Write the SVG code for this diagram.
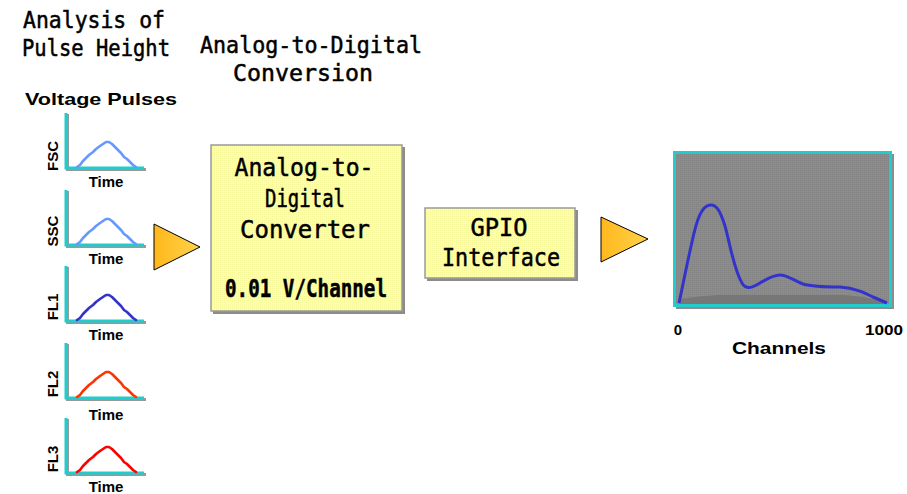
<svg xmlns="http://www.w3.org/2000/svg" width="907" height="494" viewBox="0 0 907 494">
  <style>
    .title { font-family: "DejaVu Sans Mono", "Liberation Mono", monospace; font-size: 23px; fill: #000; stroke: #000; stroke-width: 0.5; text-anchor: middle; }
    .boxtxt { font-family: "DejaVu Sans Mono", "Liberation Mono", monospace; font-size: 24px; fill: #000; stroke: #000; stroke-width: 0.5; text-anchor: middle; }
    .bold { font-family: "Liberation Sans", Arial, sans-serif; font-weight: bold; fill: #000; }
    .axis { fill: none; stroke: #22cccc; stroke-width: 3; }
    .axshadow { fill: none; stroke: #999; stroke-width: 3; }
    .pulse { fill: none; stroke-width: 2.6; stroke-linejoin: round; stroke-linecap: round; }
    .box { stroke: #9a9a9a; stroke-width: 1.5; }
    .shadow { fill: #8c8c8c; }
    .tri { fill: url(#triFill); stroke: #000; stroke-width: 1; }
  </style>
  <defs>
    <linearGradient id="triFill" x1="0" y1="0" x2="1" y2="0">
      <stop offset="0" stop-color="#ffb81c"/>
      <stop offset="1" stop-color="#ffd24a"/>
    </linearGradient>
    <pattern id="dither" width="2" height="2" patternUnits="userSpaceOnUse">
      <rect width="2" height="2" fill="#ffffa6"/>
      <rect width="1" height="1" fill="#f6f69a"/>
    </pattern>
    <pattern id="greyDither" width="2" height="2" patternUnits="userSpaceOnUse">
      <rect width="2" height="2" fill="#8c8c8c"/>
      <rect width="1" height="1" fill="#828282"/>
    </pattern>
    <!-- one small pulse plot: axes plus a bell-shaped trace -->
    <g id="plotAxes">
      <path class="axshadow" d="M1.5,-54 V1.5 H80"/>
      <path class="axis" d="M0,-55 V0 H78"/>
    </g>
    <polyline id="pulseTrace" points="11,-1 14,-3 17,-7 20,-10 23,-13 27,-16 30,-19 34,-22 37,-24 40,-26 43,-26 46,-24 49,-21 52,-18 55,-15 58,-11 61,-9 64,-6 67,-3 70,-1"/>
  </defs>

  <!-- headings -->
  <g id="headings">
    <text class="title" x="94" y="28" textLength="142" lengthAdjust="spacingAndGlyphs">Analysis of</text>
    <text class="title" x="96" y="56" textLength="148" lengthAdjust="spacingAndGlyphs">Pulse Height</text>
    <text class="title" x="311" y="53" textLength="222" lengthAdjust="spacingAndGlyphs">Analog-to-Digital</text>
    <text class="title" x="303" y="81" textLength="140" lengthAdjust="spacingAndGlyphs">Conversion</text>
    <text class="bold" x="101" y="105" font-size="17" text-anchor="middle" textLength="152" lengthAdjust="spacingAndGlyphs">Voltage Pulses</text>
  </g>

  <!-- pulse plots -->
  <g id="pulse-fsc">
    <g transform="translate(66,168)">
      <use href="#plotAxes"/>
      <use href="#pulseTrace" class="pulse" stroke="#6699ff"/>
    </g>
    <text class="bold" font-size="15" transform="translate(58,156) rotate(-90)" text-anchor="middle">FSC</text>
    <text class="bold" font-size="15" x="106" y="187" text-anchor="middle">Time</text>
  </g>
  <g id="pulse-ssc">
    <g transform="translate(66,245)">
      <use href="#plotAxes"/>
      <use href="#pulseTrace" class="pulse" stroke="#6699ff"/>
    </g>
    <text class="bold" font-size="15" transform="translate(58,231) rotate(-90)" text-anchor="middle">SSC</text>
    <text class="bold" font-size="15" x="106" y="264" text-anchor="middle">Time</text>
  </g>
  <g id="pulse-fl1">
    <g transform="translate(66,321)">
      <use href="#plotAxes"/>
      <use href="#pulseTrace" class="pulse" stroke="#3333cc"/>
    </g>
    <text class="bold" font-size="15" transform="translate(58,307) rotate(-90)" text-anchor="middle">FL1</text>
    <text class="bold" font-size="15" x="106" y="340" text-anchor="middle">Time</text>
  </g>
  <g id="pulse-fl2">
    <g transform="translate(66,398)">
      <use href="#plotAxes"/>
      <use href="#pulseTrace" class="pulse" stroke="#ff3300"/>
    </g>
    <text class="bold" font-size="15" transform="translate(58,384) rotate(-90)" text-anchor="middle">FL2</text>
    <text class="bold" font-size="15" x="106" y="420" text-anchor="middle">Time</text>
  </g>
  <g id="pulse-fl3">
    <g transform="translate(66,473)">
      <use href="#plotAxes"/>
      <use href="#pulseTrace" class="pulse" stroke="#ff0000"/>
    </g>
    <text class="bold" font-size="15" transform="translate(58,459) rotate(-90)" text-anchor="middle">FL3</text>
    <text class="bold" font-size="15" x="106" y="492" text-anchor="middle">Time</text>
  </g>

  <!-- flow arrows -->
  <g id="connectors">
    <polygon class="tri" points="154,224 200,247 154,270"/>
    <polygon class="tri" points="601,217 648,239 601,262"/>
  </g>

  <!-- converter block -->
  <g id="adc">
    <rect class="shadow" x="213" y="147" width="192" height="167"/>
    <rect class="box" x="211" y="145" width="191" height="166" fill="url(#dither)"/>
    <text class="boxtxt" x="304" y="176" textLength="139" lengthAdjust="spacingAndGlyphs">Analog-to-</text>
    <text class="boxtxt" x="305" y="207" textLength="80" lengthAdjust="spacingAndGlyphs">Digital</text>
    <text class="boxtxt" x="305" y="238" textLength="130" lengthAdjust="spacingAndGlyphs">Converter</text>
    <text class="boxtxt" x="306" y="297" font-size="17" font-weight="bold" stroke-width="0" textLength="162" lengthAdjust="spacingAndGlyphs">0.01 V/Channel</text>
  </g>

  <!-- interface block -->
  <g id="gpio">
    <rect class="shadow" x="427" y="210" width="151" height="71"/>
    <rect class="box" x="425" y="208" width="150" height="70" fill="url(#dither)"/>
    <text class="boxtxt" x="499" y="236" textLength="57" lengthAdjust="spacingAndGlyphs">GPIO</text>
    <text class="boxtxt" x="501" y="266" textLength="118" lengthAdjust="spacingAndGlyphs">Interface</text>
  </g>

  <!-- channel histogram -->
  <g id="histogram">
    <rect class="shadow" x="676" y="154" width="218" height="155"/>
    <rect x="674.5" y="152.5" width="216" height="153" fill="url(#greyDither)" stroke="#22cccc" stroke-width="3"/>
    <path d="M679,299 Q700,296 718,295 L840,295 Q870,296 887,304 L679,304 Z" fill="#777"/>
    <path d="M679,303 C682,290 686,268 692,242 C697,218 702,206 710,205 C716,204 720,210 725,226 C730,244 734,270 742,283 C746,290 752,288 760,283 C767,279 773,275 780,275 C787,275 793,280 803,284 C813,287 825,287 840,287 C855,288 865,293 873,297 L887,303" fill="none" stroke="#3333cc" stroke-width="3" stroke-linejoin="round"/>
    <text class="bold" font-size="15" x="678" y="335" text-anchor="middle">0</text>
    <text class="bold" font-size="15" x="884" y="335" text-anchor="middle" textLength="38" lengthAdjust="spacingAndGlyphs">1000</text>
    <text class="bold" font-size="17" x="779" y="354" text-anchor="middle" textLength="94" lengthAdjust="spacingAndGlyphs">Channels</text>
  </g>
</svg>
